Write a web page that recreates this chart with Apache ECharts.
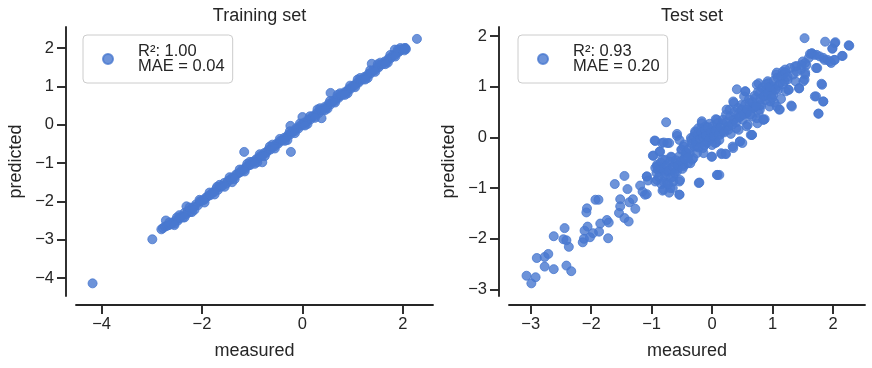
<!DOCTYPE html>
<html><head><meta charset="utf-8">
<script src="https://cdn.jsdelivr.net/npm/echarts@6/dist/echarts.min.js"></script>
<style>html,body{margin:0;padding:0;background:#fff}#c{width:872px;height:368px}</style>
</head><body><div id="c"></div>
<script>
// ---- data ----
const trainMeasured = [
-4.18,-2.99,2.28,-1.16,-0.23,0.56,-2.81,-2.72,-2.31,1.38,1.84,2.05,-0.24,0.00,0.38,-0.80,
-2.78,-2.74,-2.70,-2.66,-2.62,-2.58,-2.55,-2.52,-2.48,-2.45,-2.42,-2.38,-2.35,-2.31,-2.28,-2.24,-2.20,-2.16,-2.12,-2.08,
-2.04,-2.00,-1.96,-1.92,-1.88,-1.84,-1.80,-1.76,-1.72,-1.68,-1.64,-1.60,-1.56,-1.52,-1.48,-1.44,-1.40,-1.36,-1.32,-1.28,
-1.24,-1.20,-1.16,-1.12,-1.08,-1.04,-1.00,-0.96,-0.92,-0.88,-0.84,-0.80,-0.76,-0.72,-0.68,-0.64,-0.60,-0.56,-0.52,-0.48,
-0.44,-0.40,-0.36,-0.32,-0.28,-0.24,-0.20,-0.16,-0.12,-0.08,-0.04,0.00,0.04,0.08,0.12,0.16,0.20,0.24,0.28,0.32,
0.36,0.40,0.44,0.48,0.52,0.56,0.60,0.64,0.68,0.72,0.76,0.80,0.84,0.88,0.92,0.96,1.00,1.04,1.08,1.12,
1.16,1.20,1.24,1.28,1.32,1.36,1.40,1.44,1.48,1.52,1.56,1.60,1.64,1.68,1.72,1.76,1.80,1.84,1.88,1.92,1.96,2.00,2.04,2.06,
-2.50,-2.20,-1.70,-1.40,-1.10,-0.90,-0.60,-0.30,0.10,0.30,0.50,0.70,0.90,1.10,1.30,1.50,1.70,1.90,
-2.65,-2.55,-2.45,-2.35,-2.25,-2.15,-2.05,-1.95,-1.85,-1.75,-1.65,-1.55,-1.45,-1.35,-1.25,-1.15,-1.05,-0.95,-0.85,-0.75,
-0.65,-0.55,-0.45,-0.35,-0.25,-0.15,-0.05,0.05,0.15,0.25,0.35,0.45,0.55,0.65,0.75,0.85,0.95,1.05,1.15,1.25,
1.35,1.45,1.55,1.65,1.75,1.85,1.95,2.03
];
const trainPredicted = [
-4.14,-2.99,2.24,-0.71,-0.71,0.83,-2.73,-2.50,-2.13,1.59,1.96,2.00,-0.03,0.20,0.17,-0.98,
-2.70,-2.66,-2.64,-2.62,-2.60,-2.55,-2.58,-2.49,-2.50,-2.44,-2.40,-2.42,-2.30,-2.33,-2.25,-2.28,-2.18,-2.15,-2.08,-2.10,
-2.00,-1.98,-1.96,-1.90,-1.86,-1.84,-1.78,-1.76,-1.68,-1.70,-1.62,-1.60,-1.52,-1.54,-1.46,-1.44,-1.38,-1.37,-1.30,-1.27,
-1.24,-1.17,-1.18,-1.10,-1.07,-1.05,-0.97,-0.96,-0.90,-0.88,-0.82,-0.81,-0.74,-0.73,-0.66,-0.65,-0.58,-0.57,-0.50,-0.49,
-0.42,-0.41,-0.34,-0.33,-0.26,-0.25,-0.18,-0.17,-0.09,-0.10,-0.02,-0.01,0.06,0.06,0.14,0.14,0.22,0.22,0.30,0.30,
0.38,0.38,0.46,0.45,0.54,0.53,0.61,0.62,0.69,0.70,0.77,0.78,0.85,0.86,0.93,0.94,1.01,1.02,1.09,1.10,
1.17,1.18,1.25,1.26,1.33,1.34,1.41,1.42,1.49,1.50,1.57,1.58,1.65,1.66,1.73,1.74,1.81,1.82,1.88,1.90,1.95,1.98,2.00,1.97,
-2.42,-2.28,-1.62,-1.50,-1.02,-0.98,-0.52,-0.40,0.02,0.40,0.42,0.78,0.82,1.18,1.22,1.58,1.62,1.96,
-2.55,-2.62,-2.36,-2.42,-2.16,-2.22,-1.96,-2.03,-1.77,-1.82,-1.57,-1.62,-1.37,-1.42,-1.17,-1.22,-0.97,-1.02,-0.77,-0.82,
-0.57,-0.62,-0.37,-0.42,-0.17,-0.22,0.03,-0.02,0.22,0.18,0.43,0.38,0.62,0.58,0.82,0.78,1.02,0.98,1.22,1.18,
1.42,1.38,1.62,1.58,1.82,1.78,2.00,1.94
];
const testMeasured = [
-3.07,-2.99,-2.92,-2.90,-2.77,-2.77,-2.71,-2.62,-2.62,-2.44,-2.46,-2.41,-2.37,-2.41,-2.33,-2.14,-2.12,-2.11,-2.08,-2.07,
-2.06,-2.02,-1.97,-1.93,-1.88,-1.87,-1.85,-1.72,-1.74,-1.71,-1.61,-1.54,-1.52,-1.52,-1.45,-1.45,-1.40,-1.38,-1.37,-1.31,
-1.27,-1.19,-1.15,-1.08,-1.08,-1.06,
-0.95,-0.98,-0.91,-0.91,-0.90,-0.87,-0.83,-0.82,-0.82,-0.79,-0.76,-0.76,-0.75,-0.71,-0.71,-0.68,-0.66,-0.65,-0.64,-0.61,
-0.58,-0.57,-0.54,-0.54,-0.51,-0.48,-0.46,-0.44,-0.40,-0.37,-0.35,-0.33,-0.29,-0.28,-0.25,-0.22,-0.21,-0.18,-0.17,-0.15,
-0.14,-0.11,-0.09,-0.06,-0.04,-0.02,0.00,0.02,0.06,0.07,0.09,0.12,0.09,0.13,0.15,0.17,0.19,0.22,0.23,0.26,
0.29,0.31,0.34,0.35,0.37,0.40,0.41,0.44,0.46,0.48,0.50,0.51,0.53,0.55,0.56,0.59,0.62,0.64,0.66,0.68,
0.72,0.74,0.75,0.77,0.79,0.81,0.87,0.88,0.90,0.92,0.95,0.98,1.00,1.03,1.06,1.09,1.11,1.14,1.17,1.20,
1.22,1.25,1.27,1.31,1.34,1.38,1.40,1.44,1.47,1.50,1.53,1.53,1.54,1.56,1.60,1.62,1.65,1.69,1.72,1.72,
1.76,1.78,1.82,1.84,1.86,1.87,1.91,1.97,1.99,2.02,2.04,2.16,2.27,
-0.94,-0.80,-0.74,-0.58,-0.54,-0.97,-0.86,-0.78,-0.67,-0.50,-0.47,-0.34,-0.28,-0.23,-0.17,-0.09,-0.01,0.08,0.16,0.23,
0.08,-0.21,0.35,0.46,0.66,0.44,0.57,0.36,0.24,0.74,0.85,-1.08,-1.11,-0.94,-0.80,-0.69,-0.54,-0.64,-0.47,-0.36,
-0.31,-0.42,-0.58,-0.86,-0.75,-0.91,-0.53,-0.25,-0.14,-0.03,0.05,0.16,0.27,0.46,0.57,0.68,0.79,0.35,
2.03,1.99,2.26,2.15,1.65,1.73,1.84,1.95,2.03,1.54,1.48,1.37,1.40,1.29,1.21,1.18,1.07,1.54,1.51,1.74,
1.81,1.70,1.84,1.76,1.44,1.32,1.26,1.12,0.85,0.66,0.77,0.93,1.01,0.85,0.96,1.07,0.68,0.55,0.57,0.79,
1.01,1.12,0.88,
-0.92,-0.88,-0.85,-0.82,-0.78,-0.75,-0.72,-0.70,-0.68,-0.65,-0.62,-0.60,-0.57,-0.55,-0.52,-0.49,-0.46,-0.43,-0.40,-0.38,
-0.84,-0.80,-0.73,-0.94,
-0.33,-0.30,-0.27,-0.24,-0.20,-0.18,-0.15,-0.12,-0.10,-0.07,-0.05,-0.02,0.01,0.03,0.06,0.09,0.11,0.14,0.18,0.20,
0.24,0.27,0.30,0.33,0.37,0.40,0.43,0.45,0.49,0.52,0.55,0.58,0.61,0.63,0.67,0.70,0.73,0.76,0.80,0.83,
0.86,0.89,0.92,0.95,0.99,1.02,1.05,1.08,1.10,1.14,1.17,1.21,1.25,-0.22,-0.12,0.00,0.12
];
const testPredicted = [
-2.73,-2.88,-2.76,-2.38,-2.55,-2.36,-2.30,-2.60,-1.95,-1.79,-2.01,-2.03,-2.16,-2.53,-2.64,-2.07,-2.00,-1.84,-1.48,-1.40,
-1.76,-1.97,-1.89,-1.23,-1.23,-1.86,-1.70,-1.99,-1.63,-1.68,-0.92,-1.49,-1.22,-1.36,-0.76,-1.59,-1.02,-1.66,-1.28,-1.22,
-1.41,-0.95,-1.07,-1.12,-0.77,-0.85,
-0.06,-0.36,-0.57,-0.84,-0.64,-0.28,-0.11,-0.44,-1.05,-0.70,0.30,-0.57,-0.89,-0.11,-1.09,-0.38,-0.64,-1.00,-0.77,-0.51,
0.03,-0.61,-1.13,-0.87,-0.24,-0.54,-0.14,-0.38,-0.51,-0.31,-0.01,-0.44,-0.18,0.12,-0.31,-0.90,-0.05,0.18,0.32,-0.21,
0.05,0.22,-0.11,0.09,0.27,-0.03,-0.38,0.12,0.36,-0.10,-0.74,-0.74,0.18,0.05,-0.31,0.28,0.12,-0.32,0.45,0.22,
0.55,0.07,-0.18,0.71,0.35,0.18,0.95,0.48,-0.08,0.64,-0.11,0.35,0.81,0.91,0.51,0.25,0.68,0.05,0.41,0.58,
0.78,1.04,0.28,0.48,0.88,0.63,0.36,0.74,0.95,1.11,0.61,0.84,1.01,0.69,1.24,0.94,0.55,0.76,1.30,1.11,
0.91,1.14,0.94,0.63,1.24,1.11,1.41,0.97,1.34,1.50,1.96,1.14,1.28,1.43,1.57,1.65,1.66,1.63,1.37,0.81,
0.47,1.60,1.04,0.71,1.53,1.89,1.53,1.47,1.76,1.53,1.88,1.61,1.81,
-0.07,-0.10,-0.11,0.07,-0.05,-0.36,-0.28,-0.44,-0.39,-0.24,-0.18,-0.05,0.09,0.18,0.28,-0.08,-0.38,0.35,-0.33,-0.33,
-0.74,-0.89,-0.21,-0.08,0.05,0.15,0.22,0.68,0.55,0.38,0.35,-0.77,-1.13,-0.87,-1.03,-1.00,-1.13,-0.87,-0.57,-0.51,
-0.41,-0.31,-0.67,-0.61,-0.67,-0.54,-0.84,-0.18,-0.31,0.02,-0.11,0.12,0.22,0.41,0.48,0.58,0.64,0.35,
1.86,1.75,1.82,1.61,1.66,1.63,1.57,1.50,1.53,1.47,1.43,1.40,1.30,1.37,1.34,1.24,1.28,1.24,1.11,1.37,
1.06,0.81,0.71,0.47,0.97,0.61,0.94,0.55,0.35,0.05,1.07,1.07,0.97,0.81,0.71,0.61,0.61,0.91,0.48,0.55,
0.84,1.07,0.94,
-0.70,-0.78,-0.50,-0.62,-0.75,-0.55,-0.66,-0.48,-0.80,-0.58,-0.70,-0.45,-0.55,-0.38,-0.47,-0.62,-0.42,-0.30,-0.40,-0.22,
-0.92,-0.88,-0.92,-0.60,
-0.12,0.02,-0.08,0.06,-0.02,0.10,0.00,0.15,0.04,0.20,-0.05,0.10,0.22,0.02,0.14,0.28,0.06,0.20,0.35,0.10,
0.30,0.15,0.42,0.25,0.50,0.30,0.58,0.40,0.55,0.45,0.65,0.55,0.75,0.45,0.70,0.82,0.62,0.90,0.75,0.98,
0.82,1.05,0.88,1.00,0.78,1.12,0.95,1.18,1.02,1.20,1.05,1.28,1.20,-0.20,-0.15,-0.15,-0.05
];
const trainXTicks = [-4, -2, 0, 2];
const trainYTicks = [-4, -3, -2, -1, 0, 1, 2];
const testXTicks = [-3, -2, -1, 0, 1, 2];
const testYTicks = [-3, -2, -1, 0, 1, 2];
const panelTitles = ['Training set', 'Test set'];
const trainLabel = 'R²: 1.00\nMAE = 0.04';
const testLabel = 'R²: 0.93\nMAE = 0.20';
const xName = 'measured';
const yName = 'predicted';

// ---- chart ----
const FONT = '"Liberation Sans", Arial, sans-serif';
const INK = '#262626';
const BLUE = '#4878d0';
const fmt = v => String(v).replace('-', '\u2212');
const zip = (a, b) => a.map((v, i) => [v, b[i]]);

function xAxisCfg(gi, min, max, ticks) {
  return {
    type: 'value', gridIndex: gi, min: min, max: max, offset: 9,
    axisLine: { show: true, onZero: false, lineStyle: { color: INK, width: 1.9 } },
    axisTick: { show: true, inside: false, length: 9, customValues: ticks, lineStyle: { color: INK, width: 1.9 } },
    axisLabel: { customValues: ticks, formatter: fmt, fontSize: 16.5, color: INK, fontFamily: FONT, margin: 11 },
    splitLine: { show: false },
    name: xName, nameLocation: 'middle', nameGap: 37,
    nameTextStyle: { fontSize: 18, color: INK, fontFamily: FONT }
  };
}
function yAxisCfg(gi, min, max, ticks) {
  return {
    type: 'value', gridIndex: gi, min: min, max: max, offset: 10,
    axisLine: { show: true, onZero: false, lineStyle: { color: INK, width: 1.9 } },
    axisTick: { show: true, inside: false, length: 9, customValues: ticks, lineStyle: { color: INK, width: 1.9 } },
    axisLabel: { customValues: ticks, formatter: fmt, fontSize: 16.5, color: INK, fontFamily: FONT, margin: 12 },
    splitLine: { show: false },
    name: yName, nameLocation: 'middle', nameGap: 41,
    nameTextStyle: { fontSize: 18, color: INK, fontFamily: FONT }
  };
}
function legendCfg(left, name) {
  return {
    data: [name], left: left, top: 35, orient: 'vertical',
    selectedMode: false, icon: 'circle', itemWidth: 10, itemHeight: 10,
    padding: [8, 8, 8, 19], borderColor: '#cccccc', borderWidth: 1, borderRadius: 4,
    backgroundColor: 'rgba(255,255,255,0.8)',
    textStyle: { fontSize: 16.5, color: INK, fontFamily: FONT, lineHeight: 15, padding: [0, 0, 0, 20] }
  };
}
function seriesCfg(idx, name, xs, ys) {
  return {
    type: 'scatter', name: name, xAxisIndex: idx, yAxisIndex: idx,
    data: zip(xs, ys), symbolSize: 9,
    itemStyle: { color: BLUE, opacity: 0.8, borderColor: BLUE, borderWidth: 1 },
    emphasis: { disabled: true }, animation: false
  };
}

const chart = echarts.init(document.getElementById('c'), null, { renderer: 'canvas' });
chart.setOption({
  backgroundColor: '#ffffff',
  animation: false,
  title: [
    { text: panelTitles[0], left: 254.5, top: 2, textAlign: 'center', textStyle: { fontSize: 18, fontWeight: 'normal', color: INK, fontFamily: FONT } },
    { text: panelTitles[1], left: 687, top: 2, textAlign: 'center', textStyle: { fontSize: 18, fontWeight: 'normal', color: INK, fontFamily: FONT } }
  ],
  legend: [legendCfg(83, trainLabel), legendCfg(518, testLabel)],
  grid: [
    { left: 76, top: 27, width: 357, height: 269 },
    { left: 509, top: 27, width: 356, height: 269 }
  ],
  xAxis: [xAxisCfg(0, -4.51, 2.60, trainXTicks), xAxisCfg(1, -3.36, 2.53, testXTicks)],
  yAxis: [yAxisCfg(0, -4.47, 2.55, trainYTicks), yAxisCfg(1, -3.13, 2.18, testYTicks)],
  series: [
    seriesCfg(0, trainLabel, trainMeasured, trainPredicted),
    seriesCfg(1, testLabel, testMeasured, testPredicted)
  ]
});
</script></body></html>
